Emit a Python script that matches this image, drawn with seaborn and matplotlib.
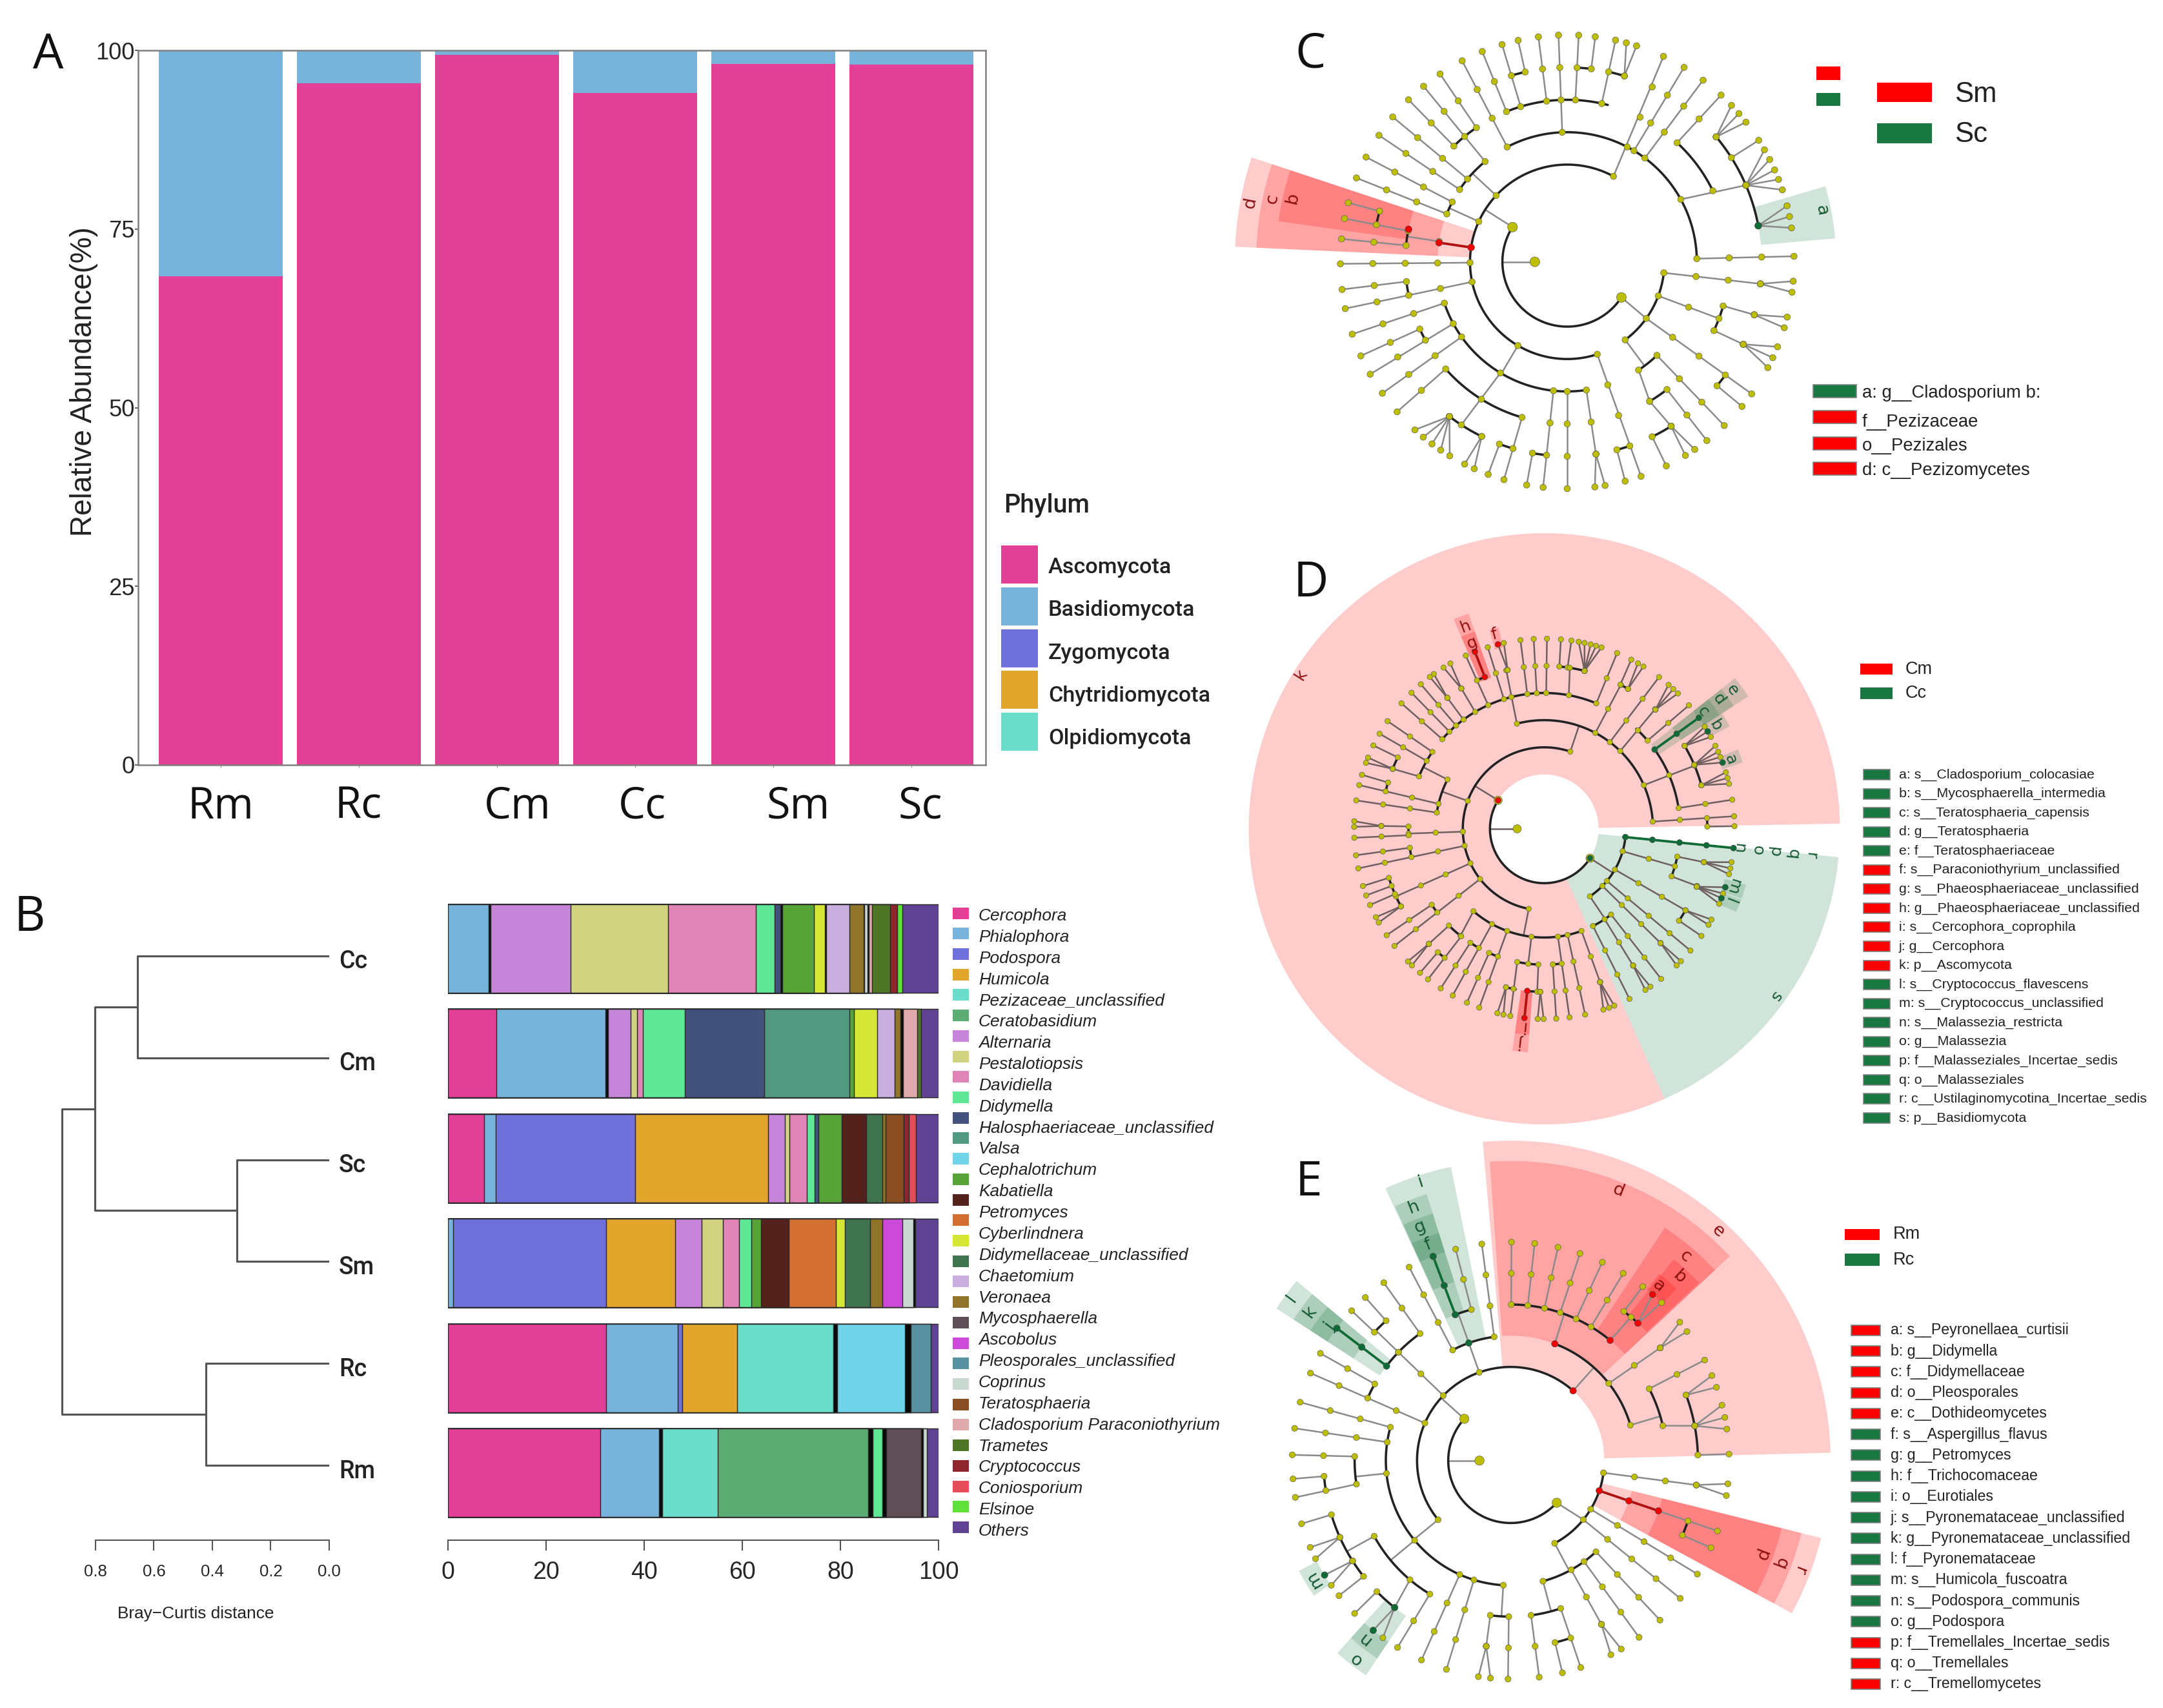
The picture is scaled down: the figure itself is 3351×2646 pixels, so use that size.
import numpy as np
import pandas as pd
import matplotlib
matplotlib.use('Agg')
import matplotlib.pyplot as plt
import seaborn as sns
from matplotlib.patches import Rectangle

W, H = 3351, 2646

# Panel A
A_SAMPLES = ['Rm', 'Rc', 'Cm', 'Cc', 'Sm', 'Sc']
A_ASCO = [68.4, 95.4, 99.4, 94.0, 98.1, 98.0]
A_BASIDIO = [31.6, 4.6, 0.6, 6.0, 1.9, 2.0]
A_PHYLA = ['Ascomycota', 'Basidiomycota', 'Zygomycota', 'Chytridiomycota', 'Olpidiomycota']
A_COLORS = ['#E23F96', '#78B3DB', '#6F70DC', '#E2A62C', '#6BDDCB']
A_YTICKS = [0, 25, 50, 75, 100]

# Panel B, stacked bars (taxa with the right edge of each block, in %)
B_SAMPLES = ['Cc', 'Cm', 'Sc', 'Sm', 'Rc', 'Rm']
B_TAXA_COLORS = {
    'Cercophora': '#E23F96', 'Phialophora': '#78B3DB', 'Podospora': '#6F70DC', 'Humicola': '#E2A62C',
    'Pezizaceae': '#6BDDCB', 'Ceratobasidium': '#5CAD73', 'Alternaria': '#C685D8', 'Pestalotiopsis': '#D1D380',
    'Davidiella': '#E084B5', 'Didymella': '#5EE896', 'Halosphaeriaceae': '#43527C', 'Valsa': '#529982',
    'Cephalotrichum': '#70D5E8', 'Kabatiella': '#57A337', 'Petromyces': '#54221C', 'Cyberlindnera': '#D36F30',
    'Unlabelled': '#D6E636', 'Didymellaceae': '#407350', 'Chaetomium': '#C9AEE0', 'Veronaea': '#8F7529',
    'Mycosphaerella': '#5E4F56', 'Ascobolus': '#CB4BD8', 'Pleosporales': '#58919F', 'Coprinus': '#C9D9D2',
    'Teratosphaeria': '#8A4E22', 'Cladosporium': '#E0A9AC', 'Trametes': '#4F7527', 'Cryptococcus': '#8F262F',
    'Coniosporium': '#E24F5A', 'Elsinoe': '#5FE13A', 'Others': '#5F4292', 'rare': '#0A0A0A',
}
CC_TAXA = ['Phialophora', 'rare', 'Alternaria', 'Pestalotiopsis', 'Davidiella', 'Didymella', 'Halosphaeriaceae', 'rare',
           'Kabatiella', 'Unlabelled', 'rare', 'Chaetomium', 'Veronaea', 'rare', 'Coprinus', 'rare', 'Cladosporium',
           'Trametes', 'Cryptococcus', 'Elsinoe', 'Others']
CC_ENDS = [8.3, 8.65, 25.0, 44.9, 62.8, 66.6, 67.8, 68.2, 74.6, 76.8, 77.1, 81.8, 84.7, 84.9, 85.5, 85.8, 86.4, 90.1,
           91.6, 92.6, 100]
CM_TAXA = ['Cercophora', 'Phialophora', 'rare', 'Alternaria', 'Pestalotiopsis', 'Davidiella', 'Didymella',
           'Halosphaeriaceae', 'Valsa', 'Kabatiella', 'Unlabelled', 'Chaetomium', 'Veronaea', 'rare', 'Cladosporium',
           'Trametes', 'Others']
CM_ENDS = [9.9, 32.1, 32.6, 37.3, 38.5, 39.7, 48.3, 64.5, 81.8, 82.7, 87.5, 91.1, 92.3, 92.8, 95.7, 96.4, 100]
SC_TAXA = ['Cercophora', 'Phialophora', 'Podospora', 'Humicola', 'Alternaria', 'Pestalotiopsis', 'Davidiella',
           'Didymella', 'Halosphaeriaceae', 'Kabatiella', 'Petromyces', 'Didymellaceae', 'Veronaea', 'Teratosphaeria',
           'Cryptococcus', 'Coniosporium', 'Others']
SC_ENDS = [7.4, 9.7, 38.2, 65.2, 68.7, 69.6, 73.1, 74.8, 75.5, 80.3, 85.2, 88.6, 89.2, 92.9, 93.9, 95.4, 100]
SM_TAXA = ['Phialophora', 'Podospora', 'Humicola', 'Alternaria', 'Pestalotiopsis', 'Davidiella', 'Didymella',
           'Kabatiella', 'Petromyces', 'Cyberlindnera', 'Unlabelled', 'Didymellaceae', 'Veronaea', 'Ascobolus',
           'Coprinus', 'rare', 'Others']
SM_ENDS = [1.1, 32.2, 46.3, 51.7, 56.0, 59.4, 61.9, 63.8, 69.5, 79.1, 80.9, 86.0, 88.6, 92.6, 94.9, 95.2, 100]
RC_TAXA = ['Cercophora', 'Phialophora', 'Podospora', 'Humicola', 'Pezizaceae', 'rare', 'Cephalotrichum', 'rare',
           'Pleosporales', 'Others']
RC_ENDS = [32.3, 46.9, 47.7, 58.9, 78.6, 79.3, 93.2, 94.3, 98.4, 100]
RM_TAXA = ['Cercophora', 'Phialophora', 'rare', 'Pezizaceae', 'Ceratobasidium', 'rare', 'Didymella', 'rare',
           'Mycosphaerella', 'rare', 'Coprinus', 'Others']
RM_ENDS = [31.1, 43.0, 43.7, 55.0, 85.6, 86.6, 88.6, 89.4, 96.5, 96.8, 97.6, 100]

B_LABELS = ['Cercophora', 'Phialophora', 'Podospora', 'Humicola', 'Pezizaceae_unclassified', 'Ceratobasidium',
            'Alternaria', 'Pestalotiopsis', 'Davidiella', 'Didymella', 'Halosphaeriaceae_unclassified', 'Valsa',
            'Cephalotrichum', 'Kabatiella', 'Petromyces', 'Cyberlindnera', 'Didymellaceae_unclassified', 'Chaetomium',
            'Veronaea', 'Mycosphaerella', 'Ascobolus', 'Pleosporales_unclassified', 'Coprinus', 'Teratosphaeria',
            'Cladosporium Paraconiothyrium', 'Trametes', 'Cryptococcus', 'Coniosporium', 'Elsinoe', 'Others']

# dendrogram: leaves top to bottom, merges as (members, distance)
D_LEAVES = ['Cc', 'Cm', 'Sc', 'Sm', 'Rc', 'Rm']
D_MERGES = [((0, 1), 0.657), ((2, 3), 0.316), ((4, 5), 0.423), ((0, 1, 2, 3), 0.803), ((0, 1, 2, 3, 4, 5), 0.915)]
D_TICKS = [0.0, 0.2, 0.4, 0.6, 0.8]

# Cladograms, angle in degrees and radius in taxonomic levels.
# chains: (angle, from level, to level[, angle at the inner end]); links carry a node only at the inner end
C_CHAINS = [(117.6, 4, 7), (112, 5, 7), (106.7, 5, 7), (102.5, 6, 7), (97.3, 5, 7), (92.2, 4, 7),
            (87.1, 5, 7), (82.9, 6, 7), (77.7, 5, 7), (74.9, 6, 7, 72.9), (72.2, 6, 7, 72.9), (64.9, 3, 7, 61.6),
            (59, 4, 7), (53.2, 4, 7), (23.2, 4, 6, 28.8), (47.3, 5, 7), (43.6, 6, 7, 40), (40.8, 6, 7, 40),
            (38, 6, 7, 40), (32.4, 6, 7), (29.6, 6, 7, 23.2), (26.8, 6, 7, 23.2), (23.9, 6, 7, 23.2),
            (21.3, 6, 7, 23.2), (18.5, 6, 7, 23.2), (14.3, 6, 7, 10.7), (11.5, 6, 7, 10.7), (8.6, 6, 7, 10.7),
            (1.4, 4, 7), (129.3, 4, 7), (134.4, 5, 7), (124.1, 5, 7), (140.3, 4, 7), (146.1, 4, 7), (152.5, 4, 7),
            (158.3, 4, 7), (174.2, 5, 7), (169, 5, 7), (164.9, 6, 7), (180.5, 3, 7), (191.9, 3, 7), (187, 5, 7),
            (198.6, 4, 7), (209.7, 4, 7, 208.5), (204.5, 5, 7), (215.4, 4, 7), (237, 4, 6, 239), (221.4, 5, 7),
            (253.8, 5, 7), (249.6, 6, 7), (227.8, 6, 7, 232.7), (230.6, 6, 7, 232.7), (233.4, 6, 7, 232.7),
            (236.1, 6, 7, 232.7), (238.8, 6, 7, 232.7), (243.1, 6, 7, 243.9), (245.8, 6, 7, 243.9), (263.9, 4, 7),
            (259.7, 6, 7), (270, 4, 7), (278.5, 4, 6), (277, 6, 7, 278.5), (279.6, 6, 7, 278.5), (289, 3, 7, 288),
            (284.8, 6, 7), (324.4, 3, 7), (320.4, 6, 7), (-6.5, 3, 6), (-4.9, 6, 7, -6.5), (-7.7, 6, 7, -6.5),
            (-20.5, 3, 5), (-15.8, 5, 6), (-14.1, 6, 7, -15.8), (-16.9, 6, 7, -15.8), (-25.1, 5, 6),
            (-22, 6, 7, -25.1), (-25, 6, 7, -25.1), (-27.8, 6, 7, -25.1), (-46.2, 4, 7), (-59.4, 4, 5, -56.6),
            (-57.7, 5, 6, -59.4), (-52, 5, 7), (-55.8, 6, 7, -57.7), (-58.6, 6, 7, -57.7), (-64.1, 6, 7)]
C_LINKS = [(180, 1, 2), (147.6, 2, 3), (324.4, 2, 3, 326.7), (137, 3, 4), (155.5, 3, 4), (171, 4, 5), (239.5, 3, 4),
           (-53.4, 3, 4)]
C_ARCS = [(2, 147.6, 326.7), (3, 61.6, 288), (3, -53.4, -5.9), (4, 1.4, 117.5), (5, 75.5, 111.8), (6, 102.5, 106.7),
          (6, 82.9, 87.1), (6, 72.9, 77.7), (5, 25.8, 47.3), (6, 10.7, 40), (4, 130.7, 145.9), (5, 124.1, 134.4),
          (4, 152.4, 158.3), (5, 168.4, 174.2), (6, 164.9, 169), (5, 187, 192.1), (4, 198.4, 278.5), (5, 204.4, 209.7),
          (5, 221.4, 252.8), (6, 232.7, 243.9), (6, 249.6, 253.8), (6, 259.7, 263.9), (6, 284.8, 289),
          (6, 320.4, 324.5), (5, -25.1, -15.8), (4, -56.6, -46.2), (5, -59.4, -51.9), (6, -64.1, -57.7)]
C_RED = [(171.5, 3, 4), (168.4, 5, 5)]
C_GREEN = [(10.7, 6, 6)]
# wedges: (start angle, end angle, inner level, outer level, colour key)
C_WEDGES = [(161.7, 177.4, 3, 10.26, 'r'), (161.7, 177.4, 4, 9.6, 'r'), (161.7, 172, 5, 9.0, 'r'), (5, 16.3, 6, 8.3, 'g')]
C_MARKS = [('a', 11.4, 8.0, 'g'), ('b', 167, 8.7, 'r'), ('c', 168, 9.3, 'r'), ('d', 169.5, 9.95, 'r')]

D_CHAINS = [(103.5, 4, 6, 104.6), (104.1, 6, 7, 103), (102.3, 6, 7, 103), (67.5, 5, 7), (85, 6, 7, 84.7),
            (81.8, 6, 7), (81, 5, 6, 79.6), (79.6, 6, 7, 75.7), (77.8, 6, 7, 75.7), (75.9, 6, 7, 75.7),
            (74.2, 6, 7, 75.7), (72.5, 6, 7, 75.7), (89.2, 5, 7), (93.2, 5, 7), (97.2, 5, 7), (107.3, 5, 7),
            (114.4, 5, 7), (111.4, 6, 7), (120.6, 5, 6), (119.6, 6, 7, 120.6), (122, 6, 7, 120.6), (126.5, 5, 6),
            (125.5, 6, 7, 126.5), (127, 6, 7, 126.5), (130.5, 5, 7), (134.3, 5, 7), (138.7, 5, 7), (62, 4, 6),
            (62.8, 6, 7, 62.2), (60.5, 6, 7, 59.1), (58.6, 6, 7, 59.1), (52.9, 4, 7), (47.2, 4, 6, 45.7),
            (49.2, 6, 7, 47), (47.3, 6, 7, 47), (45.4, 6, 7, 47), (40.5, 5, 7), (22.8, 4, 6, 23.7), (35.7, 5, 7),
            (32.5, 6, 7, 30.6), (30.8, 6, 7, 30.6), (28.9, 6, 7, 30.6), (25.9, 6, 7, 23.1), (23.9, 6, 7, 23.1),
            (22.2, 6, 7, 23.1), (20.4, 6, 7, 23.1), (17.3, 6, 7, 15.5), (15.5, 6, 7), (13.7, 6, 7, 15.5), (8.8, 5, 7),
            (3.8, 4, 7), (0.8, 6, 7), (145.5, 5, 7), (150, 5, 7), (158.4, 5, 6, 157.3), (154, 6, 7), (158, 6, 7, 158.4),
            (159.7, 6, 7, 158.4), (166.7, 4, 7), (163.5, 6, 7), (171.4, 4, 7), (182, 3, 5), (179, 5, 6),
            (177.7, 6, 7, 179), (179.4, 6, 7, 179), (182.7, 5, 7), (188, 5, 7), (192, 3, 7), (204.5, 3, 6, 205),
            (197.5, 6, 7), (200.5, 6, 7), (203.6, 6, 7), (208.4, 6, 6), (207.7, 6, 7, 208.4), (209.5, 6, 7, 208.4),
            (214, 5, 7), (218, 3, 7), (231.9, 4, 5, 229.3), (224.9, 5, 6, 225.4), (224.2, 6, 7, 224.9),
            (225.9, 6, 7, 224.9), (232.3, 5, 7), (229.2, 6, 7), (241.2, 4, 7), (237, 5, 7), (250, 4, 7), (246, 5, 7),
            (263.2, 4, 5), (259.7, 5, 7, 258.5), (255.7, 6, 7, 256.4), (257.6, 6, 7, 256.4), (264, 6, 7),
            (267.5, 5, 6), (268, 6, 7, 268.6), (269.8, 6, 7, 268.6), (273.6, 5, 7), (277.6, 4, 7, 277.2),
            (282.4, 4, 7), (290, 4, 6), (288.1, 6, 7, 290), (289.9, 6, 7, 290), (291.6, 6, 7, 290), (-5.8, 3, 7),
            (-16, 3, 5), (-11.8, 5, 6), (-10.1, 6, 7, -11.8), (-12, 6, 7, -11.8), (-13.8, 6, 7, -11.8),
            (-20.5, 5, 6), (-17.9, 6, 7, -20.8), (-19.9, 6, 7, -20.8), (-21.4, 6, 7, -20.8), (-23.2, 6, 7, -20.8),
            (-30, 3, 6), (-28.5, 6, 7, -30), (-30.3, 6, 7, -30), (-34.3, 6, 7), (-39.8, 3, 7), (-44.5, 3, 6),
            (-44.1, 6, 7, -44.5), (-45.9, 6, 7, -44.5), (-52.1, 4, 7), (-57, 4, 6, -56.3), (-56.1, 6, 7, -57),
            (-57.9, 6, 7, -57), (-63.4, 4, 7)]
D_LINKS = [(180, 1, 2), (148.3, 2, 3), (71.4, 3, 4), (160, 3, 4), (153, 4, 5), (259, 3, 4), (327.3, 2, 3), (-56, 3, 4)]
D_ARCS = [(2, 148.3, 327.3), (3, 71.4, 258.9), (3, -55.9, -5.8), (4, 3.6, 104.6), (5, 67.6, 138.5), (6, 75.7, 84.7),
          (6, 111.4, 114.4), (6, 59.1, 62.2), (5, 40.5, 47.4), (5, 8.9, 35.7), (6, 15.5, 30.6), (6, 0.8, 3.8),
          (4, 153.2, 171.4), (5, 146, 157.3), (6, 154.1, 158.4), (6, 163.5, 166.7), (5, 178.9, 182.9), (5, 188, 192),
          (6, 197.3, 208.4), (5, 214, 217.7), (4, 229.3, 290.5), (5, 225.4, 231.9), (6, 229.1, 232.3),
          (5, 237, 241.1), (5, 245.9, 250), (5, 258.5, 267.5), (6, 256.4, 259.9), (6, 264, 268.6), (5, 273.4, 277.7),
          (4, -63.5, -52.1), (5, -20.2, -11.8), (6, -34.3, -29.8)]
D_RED = [(148.3, 2, 2), (104.1, 7, 7), (111.4, 6, 7), (264, 6, 7)]
D_GREEN = [(327.3, 2, 2), (35.7, 5, 7), (30.8, 7, 7), (20.4, 7, 7), (-17.9, 7, 7), (-21.4, 7, 7), (-5.8, 3, 7)]
D_WEDGES = [(1, 294, 2, 10.88, 'r'), (294, 354.5, 2, 10.88, 'g'), (109.4, 113.4, 5.9, 8.4, 'r'), (109.4, 113.4, 5.9, 7.7, 'r'),
            (102.8, 105.4, 6.85, 7.6, 'r'), (33, 38.3, 5, 8.95, 'g'), (33, 38.3, 6, 8.3, 'g'), (33, 38.3, 7, 7.7, 'g'),
            (29, 33, 6.9, 7.8, 'g'), (18.5, 22.3, 6.9, 7.7, 'g'), (-19.5, -15.5, 6.9, 7.7, 'g'),
            (-23.4, -19.8, 6.9, 7.7, 'g'), (261.8, 265.8, 6, 7.6, 'r'), (261.8, 265.8, 6, 8.25, 'r')]
D_MARKS = [('a', 20.4, 7.3, 'g'), ('b', 31, 7.35, 'g'), ('c', 36.5, 7.27, 'g'), ('d', 36.5, 8.0, 'g'), ('e', 36.5, 8.6, 'g'),
           ('f', 104.5, 7.39, 'r'), ('g', 111.3, 7.34, 'r'), ('h', 111.3, 8.0, 'r'), ('i', 263.9, 7.3, 'r'),
           ('j', 263.9, 7.9, 'r'), ('k', 147.6, 10.6, 'r'), ('l', -21, 7.32, 'g'), ('m', -17, 7.27, 'g'),
           ('n', -5.8, 7.2, 'g'), ('o', -5.8, 7.9, 'g'), ('p', -5.8, 8.5, 'g'), ('q', -5.8, 9.2, 'g'),
           ('r', -5.8, 9.85, 'g'), ('s', -35.9, 10.5, 'g')]

E_CHAINS = [(89.8, 5, 7), (83.7, 5, 7), (77.5, 5, 7), (71.5, 5, 7), (65.2, 5, 7), (59, 5, 7),
            (50, 5, 6, 50.4), (52.8, 6, 7), (49.5, 6, 7, 47.2), (46.3, 6, 7, 47.2), (37, 4, 6, 38.2),
            (39.3, 6, 7, 37), (36.2, 6, 7, 37), (27.4, 5, 7), (10.7, 5, 6, 12.9), (22.9, 6, 7, 20.5),
            (19.6, 6, 7, 20.5), (14.7, 6, 7, 10.7), (11.4, 6, 7, 10.7), (8.3, 6, 7, 10.7), (1.7, 6, 7),
            (97.6, 4, 7), (104.6, 5, 7), (110.8, 5, 7), (117.7, 4, 7), (125.5, 5, 7), (136, 3, 5), (131.7, 6, 7),
            (136.7, 6, 7), (142.7, 5, 7), (156.4, 3, 7), (150.6, 5, 7), (164.5, 4, 7), (171.5, 4, 7), (178.5, 5, 7),
            (184.8, 6, 7), (189.7, 5, 7, 188.7), (196.8, 6, 7), (204.2, 6, 6), (203.4, 6, 7, 204.2),
            (206.7, 6, 7, 204.2), (212.4, 6, 6), (211.6, 6, 7, 212.4), (214.8, 6, 7, 212.4), (218.2, 6, 7),
            (224.4, 6, 7), (231.7, 5, 6, 229.8), (231, 6, 7, 231.7), (234.2, 6, 7, 231.7), (238.8, 5, 7),
            (245.9, 4, 7), (252.9, 4, 7), (269.3, 5, 7), (262.5, 5, 6), (261.5, 6, 7, 262.5), (264.7, 6, 7, 262.5),
            (-39.1, 3, 7), (-7.5, 3, 6), (-6.1, 6, 7, -7.5), (-9.2, 6, 7, -7.5), (-18.8, 3, 7),
            (-23.5, 6, 7), (-31.3, 3, 7), (-46.9, 4, 7), (-54, 4, 7), (-61, 4, 6), (-62.7, 6, 7, -61),
            (-59.6, 6, 7, -61), (-82.5, 5, 7), (-71.3, 5, 7), (-76.3, 6, 7)]
E_LINKS = [(180, 1, 2), (138, 2, 3), (-39.1, 2, 3, -42.5), (48.2, 3, 4), (70, 4, 5, 69.3), (109.6, 3, 4), (109.6, 4, 5), (16.5, 4, 5),
           (219.2, 3, 4), (219.7, 4, 5), (209, 5, 6), (136, 5, 6), (185.9, 4, 5), (266.6, 4, 5), (-62, 3, 4), (-75, 4, 5)]
E_ARCS = [(2, 138, 317.5), (3, 48.2, 219.2), (4, 16.5, 69.3), (5, 50.4, 89.8), (6, 47.2, 52.8), (5, 12.9, 27.4),
          (6, 1.8, 20.5), (4, 97.5, 117.8), (5, 104.6, 110.8), (5, 125.5, 142.5), (6, 131.7, 136.7), (5, 150.6, 156.6),
          (4, 164.5, 266.6), (5, 178.4, 188.7), (6, 184.8, 189.7), (5, 209, 238.6), (6, 196.8, 218.3), (6, 224.4, 231.7),
          (5, 262.9, 269.2), (3, -62.1, -6.7), (6, -23.5, -18.7), (4, -74.9, -46.8), (5, -82.4, -72.4), (6, -76.3, -71.3)]
E_RED = [(48.2, 3, 3), (69.3, 4, 4), (50.4, 5, 5), (47.2, 6, 6), (49.5, 7, 7, 47.2), (-18.8, 3, 5)]
E_GREEN = [(109.6, 4, 4), (110.8, 5, 7), (142.7, 5, 7), (211.6, 7, 7), (231.7, 6, 6), (231, 7, 7, 231.7)]
E_WEDGES = [(1.4, 95, 3, 10.25, 'r'), (43, 94, 4, 9.6, 'r'), (43, 56.5, 5, 8.95, 'r'), (43.4, 51, 6, 8.3, 'r'), (46, 51.5, 7, 7.65, 'r'),
            (-28.5, -14, 3, 10.25, 'r'), (-28.5, -14, 4, 9.6, 'r'), (-28.5, -14, 5, 8.95, 'r'),
            (101.5, 114.7, 4, 9.6, 'g'), (107.5, 114.5, 5, 8.95, 'g'), (107.5, 114.5, 6, 8.3, 'g'), (107.5, 114.5, 7, 7.65, 'g'),
            (140, 147, 5, 8.95, 'g'), (140, 147, 6, 8.3, 'g'), (140, 147, 7, 7.65, 'g'), (207.5, 214.5, 7, 7.65, 'g'),
            (228, 236, 6, 8.3, 'g'), (228, 236, 7, 7.65, 'g')]
E_MARKS = [('a', 49.8, 7.32, 'r'), ('b', 47.4, 7.98, 'r'), ('c', 49.5, 8.6, 'r'), ('d', 68.3, 9.3, 'r'), ('e', 47.9, 9.9, 'r'),
           ('f', 111, 7.4, 'g'), ('g', 111.3, 8.03, 'g'), ('h', 111, 8.69, 'g'), ('i', 107.9, 9.37, 'g'),
           ('j', 143.5, 7.22, 'g'), ('k', 143.5, 8.0, 'g'), ('l', 143.5, 8.73, 'g'), ('m', 211, 7.36, 'g'),
           ('n', 230.5, 7.38, 'g'), ('o', 231.9, 8.05, 'g'), ('p', -20.8, 8.58, 'r'), ('q', -20.8, 9.25, 'r'), ('r', -20.8, 9.89, 'r')]

C_LEGEND = ['a: g__Cladosporium b:', 'f__Pezizaceae', 'o__Pezizales', 'd: c__Pezizomycetes']
C_LEGEND_KEYS = ['g', 'r', 'r', 'r']
D_LEGEND = ['a: s__Cladosporium_colocasiae', 'b: s__Mycosphaerella_intermedia', 'c: s__Teratosphaeria_capensis',
            'd: g__Teratosphaeria', 'e: f__Teratosphaeriaceae', 'f: s__Paraconiothyrium_unclassified',
            'g: s__Phaeosphaeriaceae_unclassified', 'h: g__Phaeosphaeriaceae_unclassified', 'i: s__Cercophora_coprophila',
            'j: g__Cercophora', 'k: p__Ascomycota', 'l: s__Cryptococcus_flavescens', 'm: s__Cryptococcus_unclassified',
            'n: s__Malassezia_restricta', 'o: g__Malassezia', 'p: f__Malasseziales_Incertae_sedis', 'q: o__Malasseziales',
            'r: c__Ustilaginomycotina_Incertae_sedis', 's: p__Basidiomycota']
D_LEGEND_KEYS = list('gggggrrrrrrgggggggg')
E_LEGEND = ['a: s__Peyronellaea_curtisii', 'b: g__Didymella', 'c: f__Didymellaceae', 'd: o__Pleosporales',
            'e: c__Dothideomycetes', 'f: s__Aspergillus_flavus', 'g: g__Petromyces', 'h: f__Trichocomaceae', 'i: o__Eurotiales',
            'j: s__Pyronemataceae_unclassified', 'k: g__Pyronemataceae_unclassified', 'l: f__Pyronemataceae',
            'm: s__Humicola_fuscoatra', 'n: s__Podospora_communis', 'o: g__Podospora', 'p: f__Tremellales_Incertae_sedis',
            'q: o__Tremellales', 'r: c__Tremellomycetes']
E_LEGEND_KEYS = list('rrrrrggggggggggrrr')

RED, GREEN = '#FF0000', '#197841'
DARK = {'r': '#8B1010', 'g': '#145A32'}
KEY = {'r': RED, 'g': GREEN}

sns.set_theme(style='white')
plt.rcParams['font.family'] = ['Liberation Sans', 'DejaVu Sans']

fig = plt.figure(figsize=(W / 300, H / 300), dpi=300)


def px_axes(left, top, right, bottom, **kw):
    return fig.add_axes([left / W, 1 - bottom / H, (right - left) / W, (bottom - top) / H], **kw)


# A
ax = px_axes(214, 78, 1527, 1185)
a_rows = []
for s, asco, bas in zip(A_SAMPLES, A_ASCO, A_BASIDIO):
    a_rows.append((s, 'Basidiomycota', asco + bas))
    a_rows.append((s, 'Ascomycota', asco))
a_df = pd.DataFrame(a_rows, columns=['sample', 'phylum', 'top'])
sns.barplot(data=a_df, x='sample', y='top', hue='phylum', hue_order=['Basidiomycota', 'Ascomycota'],
            palette=dict(zip(A_PHYLA, A_COLORS)), order=A_SAMPLES, dodge=False, width=0.895, errorbar=None,
            legend=False, linewidth=0, saturation=1, ax=ax)
ax.set_xlim(-0.598, 5.537)
ax.set_ylim(0, 100)
ax.set_yticks(A_YTICKS)
ax.set_xticks(range(6))
ax.set_xticklabels([])
ax.set_xlabel('')
ax.set_ylabel('')
ax.tick_params(axis='y', left=True, length=1.2, width=0.5, color='#666666', labelsize=8.7, pad=0)
ax.tick_params(axis='x', bottom=True, length=1, width=0.3, color='#999999')
for sp in ax.spines.values():
    sp.set_color('#808080')
    sp.set_linewidth(0.6)

# B bars: overlaid bars, longest first, so each one shows as a block of the stack
ax = px_axes(694, 1388, 1454, 2363)
b_taxa = [CC_TAXA, CM_TAXA, SC_TAXA, SM_TAXA, RC_TAXA, RM_TAXA]
b_ends = [CC_ENDS, CM_ENDS, SC_ENDS, SM_ENDS, RC_ENDS, RM_ENDS]
b_rows = [(s, f'{s}-{i}', t, e) for s, ts, es in zip(B_SAMPLES, b_taxa, b_ends) for i, (t, e) in enumerate(zip(ts, es))]
b_df = pd.DataFrame(b_rows, columns=['sample', 'segment', 'taxon', 'end']).sort_values('end', ascending=False, kind='stable')
b_colors = {row.segment: B_TAXA_COLORS[row.taxon] for row in b_df.itertuples()}
sns.barplot(data=b_df, y='sample', x='end', hue='segment', hue_order=list(b_df['segment']), palette=b_colors,
            order=B_SAMPLES, dodge=False, width=0.846, errorbar=None, legend=False, edgecolor='#2A2A2A',
            linewidth=0.35, saturation=1, ax=ax)
ax.set_xlim(0, 100)
ax.set_ylim(5.5, -0.5)
ax.set_xticks(range(0, 101, 20))
ax.set_yticks([])
ax.set_xlabel('')
ax.set_ylabel('')
ax.tick_params(axis='x', bottom=True, length=3.8, width=0.5, color='#555555', labelsize=9, pad=4)
sns.despine(ax=ax, left=True)
ax.spines['bottom'].set_position(('outward', 5.5))
ax.spines['bottom'].set_color('#555555')
ax.spines['bottom'].set_linewidth(0.5)

# B dendrogram
ax = px_axes(90, 1400, 510, 2386)
ax.set_xlim(0.928, 0)
ax.set_ylim(5.735, -0.513)
nodes = {(i,): (0.0, float(i)) for i in range(len(D_LEAVES))}
for members, dist in D_MERGES:
    parts = sorted([k for k in nodes if set(k) < set(members)], key=len, reverse=True)
    first = parts[0]
    second = next(p for p in parts[1:] if not set(p) & set(first))
    (x0, y0), (x1, y1) = nodes[first], nodes[second]
    sns.lineplot(x=[x0, dist, dist, x1], y=[y0, y0, y1, y1], sort=False, estimator=None, color='#555555', lw=0.75, ax=ax)
    nodes[members] = (dist, (y0 + y1) / 2)
ax.set_xticks(D_TICKS)
ax.set_xticklabels([f'{t:.1f}' for t in D_TICKS])
ax.set_yticks([])
ax.tick_params(axis='x', bottom=True, length=3.8, width=0.5, color='#555555', labelsize=6.2, pad=5)
sns.despine(ax=ax, left=True)
ax.spines['bottom'].set_bounds(0, 0.8)
ax.spines['bottom'].set_color('#555555')
ax.spines['bottom'].set_linewidth(0.5)


def chain_points(ch):
    a1, l0, l1 = ch[:3]
    a0 = ch[3] if len(ch) > 3 else a1
    return a0, l0, a1, l1


def cladogram(cx, cy, step, chains, links, arcs, red, green, wedges, marks, dot=5, mark_size=6.5, line='#8A8A8A'):
    rmax = 11.2
    R = rmax * step
    pax = px_axes(cx - R, cy - R, cx + R, cy + R, projection='polar')
    pax.patch.set_alpha(0)
    for a0, a1, r0, r1, key in wedges:
        pax.bar(np.radians((a0 + a1) / 2), r1 - r0, width=np.radians(a1 - a0), bottom=r0, color=KEY[key], alpha=0.2,
                linewidth=0, zorder=1)
    for ch in chains + links:
        a0, l0, a1, l1 = chain_points(ch)
        pax.plot(np.radians([a0, a1]), [l0, l1], color=line, lw=0.6, zorder=2)
    for lev, a0, a1 in arcs:
        th = np.radians(np.linspace(a0, a1, 120))
        pax.plot(th, np.full(th.size, lev), color='#222222', lw=0.85, zorder=3, solid_capstyle='round')
    pts = [(np.radians(chain_points(ch)[0]), ch[1], 'big' if ch[1] <= 2 else 'node') for ch in links]
    for ch in chains:
        a0, l0, a1, l1 = chain_points(ch)
        for lev in range(int(l0), int(l1) + 1):
            f = (lev - l0) / (l1 - l0) if l1 > l0 else 1
            pts.append((np.radians(a0 + (a1 - a0) * f), lev, 'node'))
    for group, kind, col in ((red, 'red', '#B01010'), (green, 'green', '#0F6B35')):
        for ch in group:
            a0, l0, a1, l1 = chain_points(ch)
            if l1 > l0:
                pax.plot(np.radians([a0, a1]), [l0, l1], color=col, lw=0.9, zorder=4)
            for lev in range(int(l0), int(l1) + 1):
                f = (lev - l0) / (l1 - l0) if l1 > l0 else 1
                pts.append((np.radians(a0 + (a1 - a0) * f), lev, kind))
    nd = pd.DataFrame(pts, columns=['theta', 'r', 'kind'])
    sizes = {'node': dot, 'big': dot * 2.4, 'red': dot * 1.2, 'green': dot * 1.2}
    sns.scatterplot(data=nd, x='theta', y='r', hue='kind', size='kind', sizes=sizes,
                    palette={'node': '#BEBE00', 'big': '#BEBE00', 'red': '#F00000', 'green': '#0F6B35'},
                    hue_order=['node', 'big', 'red', 'green'], edgecolor='#555555', linewidth=0.15, legend=False,
                    zorder=5, ax=pax)
    for letter, ang, lev, key in marks:
        pax.text(np.radians(ang), lev, letter, rotation=ang - 90, rotation_mode='anchor', ha='center', va='center',
                 fontsize=mark_size, color=DARK[key], family=['DejaVu Sans'], zorder=6)
    pax.set_ylim(0, rmax)
    pax.set_axis_off()


cladogram(2428, 405.6, 50.2, C_CHAINS, C_LINKS, C_ARCS, C_RED, C_GREEN, C_WEDGES, C_MARKS, dot=5.5)
cladogram(2392.5, 1284, 42.09, D_CHAINS, D_LINKS, D_ARCS, D_RED, D_GREEN, D_WEDGES, D_MARKS, dot=4, mark_size=6, line='#6E6060')
cladogram(2340.4, 2262.7, 48.35, E_CHAINS, E_LINKS, E_ARCS, E_RED, E_GREEN, E_WEDGES, E_MARKS, dot=5)

# everything placed by hand goes on a transparent sheet in pixel units
sheet = fig.add_axes([0, 0, 1, 1])
sheet.set_xlim(0, W)
sheet.set_ylim(H, 0)
sheet.axis('off')


def box(x0, y0, x1, y1, color, edge=None):
    sheet.add_patch(Rectangle((x0, y0), x1 - x0, y1 - y0, facecolor=color, edgecolor=edge or 'none', linewidth=0.4 if edge else 0))


def label(x, y, s, size, ha='left', **kw):
    sheet.text(x, y, s, fontsize=size, ha=ha, va='center', **kw)


for letter, x, y in (('A', 75, 86), ('B', 46, 1423), ('C', 2030, 85), ('D', 2031, 904), ('E', 2027, 1832)):
    label(x, y, letter, 18, ha='center', family=['Open Sans', 'DejaVu Sans'], color='#111111')

for s, x in zip(A_SAMPLES, [342, 555, 802, 995, 1237, 1426]):
    label(x, 1250, s, 16, ha='center', family=['Open Sans', 'DejaVu Sans'], color='#111111')
sheet.text(130, 591, 'Relative Abundance(%)', fontsize=11, rotation=90, ha='center', va='center', color='#222222')

medium = dict(family=['Roboto', 'DejaVu Sans'], weight='medium', color='#222222')
label(1555, 783, 'Phylum', 9.5, **medium)
a_box_top = [845, 910, 975, 1039, 1104]
a_text_y = [879, 945, 1012, 1078, 1144]
for name, col, top, ty in zip(A_PHYLA, A_COLORS, a_box_top, a_text_y):
    box(1551, top, 1608, top + 59, col)
    label(1624, ty, name, 8.2, **medium)

for y, s in zip(np.linspace(1489, 2279, 6), D_LEAVES):
    label(525, y, s, 9, **medium)
label(303, 2500, 'Bray\u2212Curtis distance', 6.3, ha='center', color='#222222')

for col, y in zip([c for k, c in B_TAXA_COLORS.items() if k != 'rare'], np.linspace(1414.5, 2366, 31)):
    box(1476, y - 9, 1501, y + 9, col)
for s, y in zip(B_LABELS, np.linspace(1419, 2372, 30)):
    label(1516, y, s, 6.3, style='italic', color='#222222')

# LEfSe legends
box(2814, 103, 2851, 124, RED)
box(2814, 144, 2851, 164, GREEN)
box(2908, 128, 2993, 158, RED)
box(2908, 191, 2993, 222, GREEN)
label(3028, 146, 'Sm', 10.5, color='#222222')
label(3028, 208, 'Sc', 10.5, color='#222222')
for s, k, ry, ty in zip(C_LEGEND, C_LEGEND_KEYS, [606, 646, 687, 726], [609, 654, 691, 729]):
    box(2809, ry - 10, 2876, ry + 10, KEY[k], edge='#808080')
    label(2885, ty, s, 6.6, color='#222222')

box(2882, 1028, 2932, 1045, RED)
box(2882, 1065, 2932, 1083, GREEN)
label(2952, 1037, 'Cm', 6.5, color='#222222')
label(2952, 1074, 'Cc', 6.5, color='#222222')
for s, k, y in zip(D_LEGEND, D_LEGEND_KEYS, np.linspace(1200, 1732, 19)):
    box(2887, y - 8, 2928, y + 8, KEY[k], edge='#808080')
    label(2942, y, s, 5.15, color='#222222')

box(2858, 1904, 2912, 1921, RED)
box(2858, 1942, 2912, 1961, GREEN)
label(2933, 1912, 'Rm', 6.5, color='#222222')
label(2933, 1952, 'Rc', 6.5, color='#222222')
for s, k, y in zip(E_LEGEND, E_LEGEND_KEYS, np.linspace(2061, 2609, 18)):
    box(2868, y - 8, 2913, y + 8, KEY[k], edge='#808080')
    label(2929, y, s, 5.55, color='#222222')

fig.savefig('out.png', dpi=300, facecolor='white')
